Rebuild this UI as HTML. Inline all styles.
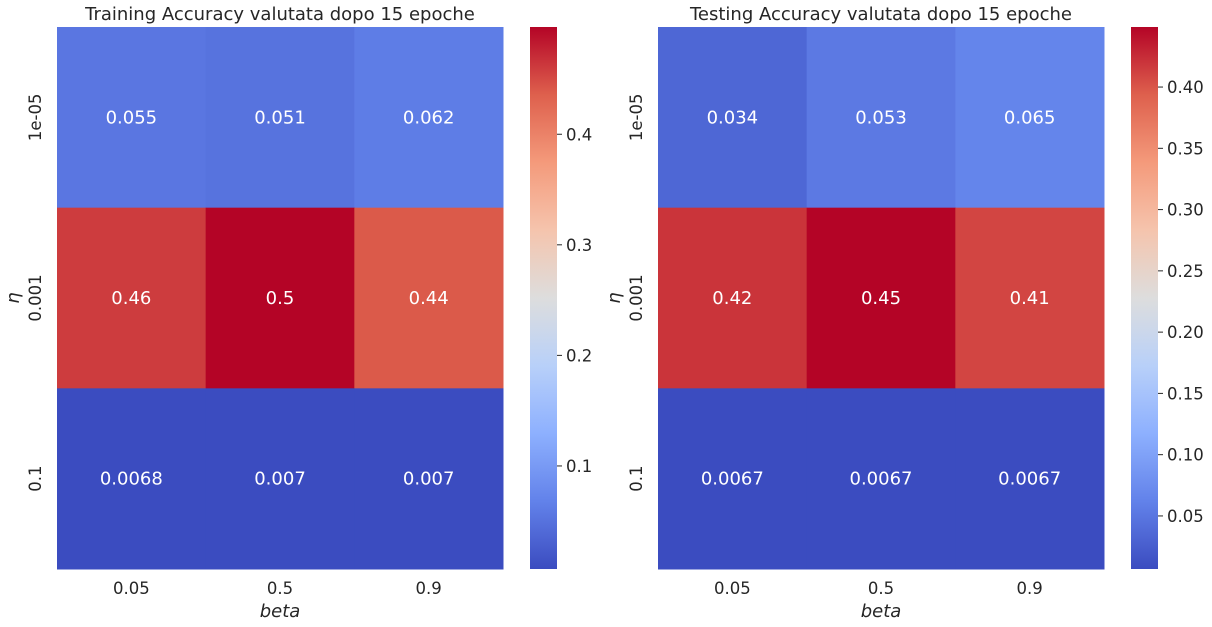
<!DOCTYPE html>
<html><head><meta charset="utf-8"><style>
html,body{margin:0;padding:0;background:#fff;}
svg{display:block;font-family:"DejaVu Sans","Liberation Sans",sans-serif;}
</style></head><body>
<svg id="c" width="1212" height="627" xmlns="http://www.w3.org/2000/svg"></svg>
<script>
const cols = ["0.05","0.5","0.9"];
const rows = ["1e-05","0.001","0.1"];
const trainValues = [[0.055,0.051,0.062],[0.46,0.497,0.44],[0.0068,0.007,0.007]];
const trainLabels = [["0.055","0.051","0.062"],["0.46","0.5","0.44"],["0.0068","0.007","0.007"]];
const testValues = [[0.034,0.053,0.065],[0.42,0.449,0.41],[0.0067,0.0067,0.0067]];
const testLabels = [["0.034","0.053","0.065"],["0.42","0.45","0.41"],["0.0067","0.0067","0.0067"]];
const trainTicks = [0.1,0.2,0.3,0.4];
const trainTickLabels = ["0.1","0.2","0.3","0.4"];
const testTicks = [0.05,0.10,0.15,0.20,0.25,0.30,0.35,0.40];
const testTickLabels = ["0.05","0.10","0.15","0.20","0.25","0.30","0.35","0.40"];

const NS="http://www.w3.org/2000/svg";
const svg=document.getElementById('c');
const anchors=[[59,76,192],[98,130,234],[141,176,254],[184,208,249],[221,221,221],[245,196,173],[244,154,123],[222,96,77],[180,4,38]];
function coolwarm(t){t=Math.max(0,Math.min(1,t));const p=t*8,i=Math.min(7,Math.floor(p)),f=p-i;const a=anchors[i],b=anchors[i+1];
return `rgb(${Math.round(a[0]+(b[0]-a[0])*f)},${Math.round(a[1]+(b[1]-a[1])*f)},${Math.round(a[2]+(b[2]-a[2])*f)})`;}
function el(tag,attrs,txt){const e=document.createElementNS(NS,tag);for(const k in attrs)e.setAttribute(k,attrs[k]);if(txt!==undefined)e.textContent=txt;svg.appendChild(e);return e;}

function panel(x0,title,vals,labels,ticks,tickLabels,key){
  const y0=27,W=446,H=542,cw=W/3,ch=H/3;
  let vmin=Infinity,vmax=-Infinity;vals.forEach(r=>r.forEach(v=>{vmin=Math.min(vmin,v);vmax=Math.max(vmax,v);}));
  const t=el('text',{x:x0+W/2,y:y0-7,'text-anchor':'middle','font-size':18,fill:'#262626'},title);
  
  
  vals.forEach((r,i)=>r.forEach((v,j)=>{
    const c=el('rect',{x:x0+j*cw,y:y0+i*ch,width:cw+0.5,height:ch+0.5,fill:coolwarm((v-vmin)/(vmax-vmin))});
    
    
  }));
  labels.forEach((r,i)=>r.forEach((s,j)=>{
    const a=el('text',{x:x0+(j+0.5)*cw,y:y0+(i+0.5)*ch+6,'text-anchor':'middle','font-size':18,fill:'#fff'},s);
    
    
  }));
  cols.forEach((c,j)=>{
    const a=el('text',{x:x0+(j+0.5)*cw,y:y0+H+25,'text-anchor':'middle','font-size':16.5,fill:'#262626'},c);
    
    
  });
  rows.forEach((r,i)=>{
    const cy=y0+(i+0.5)*ch;
    const a=el('text',{x:0,y:0,'text-anchor':'middle','font-size':16.5,fill:'#262626',transform:`translate(${x0-16},${cy}) rotate(-90)`},r);
    
    
  });
  const xl=el('text',{x:x0+W/2,y:y0+H+48,'text-anchor':'middle','font-size':18,'font-style':'italic',fill:'#262626'},'beta');
  
  
  const yl=el('text',{x:0,y:0,'text-anchor':'middle','font-size':18,'font-style':'italic',fill:'#262626',transform:`translate(${x0-38},${y0+H/2}) rotate(-90)`},'η');
  
  
  // colorbar
  const bx=x0+473,bw=27;
  const gid='g'+key;
  const defs=el('defs',{});
  const g=document.createElementNS(NS,'linearGradient');g.setAttribute('id',gid);g.setAttribute('x1','0');g.setAttribute('y1','1');g.setAttribute('x2','0');g.setAttribute('y2','0');
  for(let k=0;k<=16;k++){const s=document.createElementNS(NS,'stop');s.setAttribute('offset',k/16);s.setAttribute('stop-color',coolwarm(k/16));g.appendChild(s);}
  defs.appendChild(g);
  const cb=el('rect',{x:bx,y:y0,width:bw,height:H,fill:`url(#${gid})`});
  
  
  const sy=v=>y0+H-(v-vmin)/(vmax-vmin)*H;
  ticks.forEach((v,k)=>{
    const y=sy(v);
    el('line',{x1:bx+bw,x2:bx+bw+5,y1:y,y2:y,stroke:'#262626','stroke-width':1});
    const tl=el('text',{x:bx+bw+9,y:y+6,'font-size':16.5,fill:'#262626'},tickLabels[k]);
    
    
  });
}
panel(57,'Training Accuracy valutata dopo 15 epoche',trainValues,trainLabels,trainTicks,trainTickLabels,'train');
panel(658,'Testing Accuracy valutata dopo 15 epoche',testValues,testLabels,testTicks,testTickLabels,'test');
</script>
</body></html>
